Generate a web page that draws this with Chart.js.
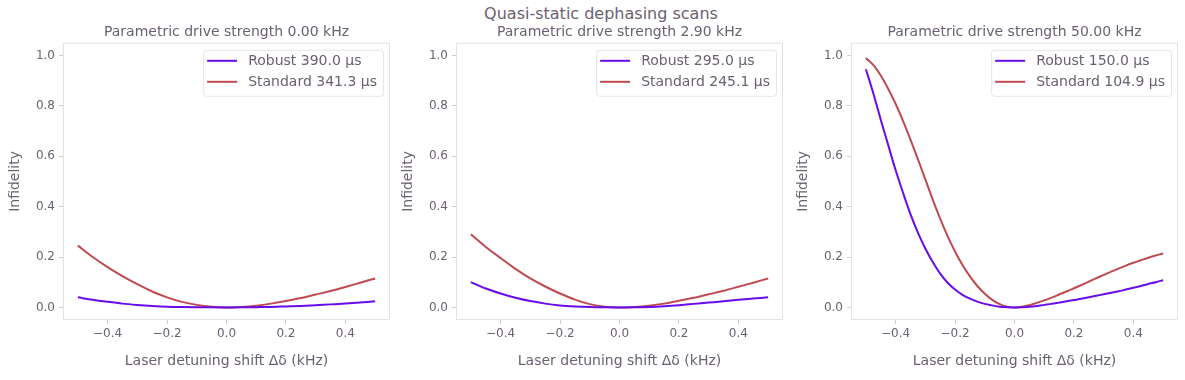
<!DOCTYPE html>
<html>
<head>
<meta charset="utf-8">
<script src="https://cdn.jsdelivr.net/npm/chart.js@4"></script>
<style>
  body { margin: 0; background: #fff; width: 1185px; height: 380px; position: relative; overflow: hidden; }
  canvas { position: absolute; top: 0; }
  #suptitle { position: absolute; top: 4px; left: 301px; width: 600px; text-align: center;
    font: 16px "DejaVu Sans", sans-serif; color: #6b6170; }
</style>
</head>
<body>
<div id="suptitle">Quasi-static dephasing scans</div>
<canvas id="p0" width="453" height="380" style="left:0px"></canvas>
<canvas id="p1" width="453" height="380" style="left:393px"></canvas>
<canvas id="p2" width="453" height="380" style="left:788px"></canvas>
<script>
// detuning shift (kHz)
const detuningCoarse = [-0.5, -0.45, -0.4, -0.35, -0.3, -0.25, -0.2, -0.15, -0.1, -0.05, 0,
  0.05, 0.1, 0.15, 0.2, 0.25, 0.3, 0.35, 0.4, 0.45, 0.5];
const detuningFine = [-0.5, -0.475, -0.45, -0.425, -0.4, -0.375, -0.35, -0.325, -0.3, -0.275,
  -0.25, -0.225, -0.2, -0.175, -0.15, -0.125, -0.1, -0.075, -0.05, -0.025, 0,
  0.025, 0.05, 0.075, 0.1, 0.125, 0.15, 0.175, 0.2, 0.225, 0.25,
  0.275, 0.3, 0.325, 0.35, 0.375, 0.4, 0.425, 0.45, 0.475, 0.5];

// drive 0.00 kHz
const robust0 = [0.04, 0.03, 0.022, 0.015, 0.01, 0.006, 0.003, 0.0015, 0.0006, 0.0001, 0,
  0.0002, 0.001, 0.002, 0.004, 0.006, 0.009, 0.012, 0.015, 0.019, 0.024];
const standard0 = [0.245, 0.2, 0.16, 0.124, 0.092, 0.063, 0.04, 0.022, 0.01, 0.003, 0,
  0.002, 0.007, 0.015, 0.025, 0.037, 0.051, 0.065, 0.081, 0.098, 0.115];

// drive 2.90 kHz
const robust29 = [0.1, 0.075, 0.055, 0.038, 0.025, 0.015, 0.008, 0.004, 0.0015, 0.0003, 0,
  0.0005, 0.002, 0.005, 0.009, 0.014, 0.019, 0.024, 0.03, 0.035, 0.04];
const standard29 = [0.29, 0.24, 0.196, 0.153, 0.115, 0.083, 0.055, 0.031, 0.013, 0.003, 0,
  0.002, 0.007, 0.015, 0.026, 0.038, 0.052, 0.066, 0.082, 0.098, 0.115];

// drive 50.00 kHz
const robust50 = [0.945, 0.85, 0.745, 0.645, 0.545, 0.455, 0.37, 0.297, 0.234, 0.18,
  0.134, 0.098, 0.071, 0.05, 0.035, 0.023, 0.014, 0.008, 0.003, 0.001, 0,
  0.001, 0.003, 0.006, 0.01, 0.014, 0.019, 0.024, 0.029, 0.034, 0.04,
  0.046, 0.052, 0.058, 0.064, 0.071, 0.078, 0.085, 0.093, 0.1, 0.108];
const standard50 = [0.99, 0.962, 0.92, 0.868, 0.808, 0.74, 0.666, 0.588, 0.508, 0.428,
  0.352, 0.283, 0.222, 0.168, 0.123, 0.085, 0.054, 0.03, 0.013, 0.003, 0,
  0.003, 0.009, 0.018, 0.028, 0.039, 0.051, 0.063, 0.076, 0.089, 0.102,
  0.116, 0.129, 0.142, 0.154, 0.166, 0.177, 0.187, 0.197, 0.206, 0.214];

const driveStrengths = ['0.00', '2.90', '50.00'];
const robustDurations = ['390.0', '295.0', '150.0'];
const standardDurations = ['341.3', '245.1', '104.9'];

const TEXT = '#6b6170';
const FONT = '"DejaVu Sans", sans-serif';
const PURPLE = '#680ce9';
const RED = '#bf4a50';

// frame around the plot area + legend box in the upper right
const framePlugin = {
  id: 'frame',
  afterDatasetsDraw(chart) {
    const {ctx, chartArea: a} = chart;
    ctx.save();
    ctx.strokeStyle = '#e3e3e3';
    ctx.lineWidth = 1;
    ctx.strokeRect(a.left + 0.5, a.top + 0.5, a.right - a.left - 1, a.bottom - a.top - 1);

    ctx.font = '14px ' + FONT;
    const sets = chart.data.datasets;
    const textW = Math.max(...sets.map(d => ctx.measureText(d.label).width));
    const w = 4 + 30 + 11 + textW + 6;
    const h = 46;
    const x0 = a.right - 7 - w;
    const y0 = a.top + 7;
    ctx.fillStyle = 'rgba(255,255,255,0.8)';
    ctx.strokeStyle = '#e6e6e6';
    ctx.beginPath();
    ctx.roundRect(x0 + 0.5, y0 + 0.5, w, h, 3);
    ctx.fill();
    ctx.stroke();
    sets.forEach((d, i) => {
      const y = y0 + 11 + i * 21;
      ctx.strokeStyle = d.borderColor;
      ctx.lineWidth = 2;
      ctx.beginPath();
      ctx.moveTo(x0 + 4, y);
      ctx.lineTo(x0 + 34, y);
      ctx.stroke();
      ctx.fillStyle = TEXT;
      ctx.textBaseline = 'middle';
      ctx.fillText(d.label, x0 + 45, y + 1);
    });
    ctx.restore();
  }
};

const panels = [
  {id: 'p0', x: detuningCoarse, robust: robust0, standard: standard0},
  {id: 'p1', x: detuningCoarse, robust: robust29, standard: standard29},
  {id: 'p2', x: detuningFine, robust: robust50, standard: standard50},
];

panels.forEach((p, k) => {
  const pts = ys => p.x.map((x, i) => ({x: x, y: ys[i]}));
  new Chart(document.getElementById(p.id), {
    type: 'line',
    data: {
      datasets: [
        {label: 'Robust ' + robustDurations[k] + ' μs', data: pts(p.robust),
          borderColor: PURPLE, borderWidth: 2, pointRadius: 0, cubicInterpolationMode: 'monotone'},
        {label: 'Standard ' + standardDurations[k] + ' μs', data: pts(p.standard),
          borderColor: RED, borderWidth: 2, pointRadius: 0, cubicInterpolationMode: 'monotone'},
      ]
    },
    options: {
      responsive: false,
      animation: false,
      layout: {padding: {left: 0, top: 0, bottom: 0, right: 63}},
      scales: {
        x: {
          type: 'linear', min: -0.55, max: 0.55,
          afterFit: s => { s.height = 60; },
          ticks: {stepSize: 0.2, includeBounds: false, color: TEXT, padding: 3,
            font: {family: FONT, size: 12},
            callback: v => (v < -1e-9 ? '\u2212' : '') + Math.abs(v).toFixed(1)},
          grid: {drawOnChartArea: false, tickLength: 4, color: '#d0d0d0'},
          border: {display: false},
          title: {display: true, text: 'Laser detuning shift Δδ (kHz)', color: TEXT,
            font: {family: FONT, size: 14}, padding: {top: 0, bottom: 10}}
        },
        y: {
          min: -0.05, max: 1.05,
          afterFit: s => { s.width = 63; },
          ticks: {stepSize: 0.2, includeBounds: false, color: TEXT, padding: 4,
            font: {family: FONT, size: 12}, callback: v => v.toFixed(1)},
          grid: {drawOnChartArea: false, tickLength: 4, color: '#d0d0d0'},
          border: {display: false},
          title: {display: true, text: 'Infidelity', color: TEXT,
            font: {family: FONT, size: 14}, padding: {top: 7, bottom: 0}}
        }
      },
      plugins: {
        legend: {display: false},
        tooltip: {enabled: false},
        // not full size, so the title centres over the plot area
        title: {display: true, fullSize: false,
          text: 'Parametric drive strength ' + driveStrengths[k] + ' kHz',
          color: TEXT, font: {family: FONT, size: 14, weight: 'normal'},
          padding: {top: 24, bottom: 2}}
      }
    },
    plugins: [framePlugin]
  });
});
</script>
</body>
</html>
